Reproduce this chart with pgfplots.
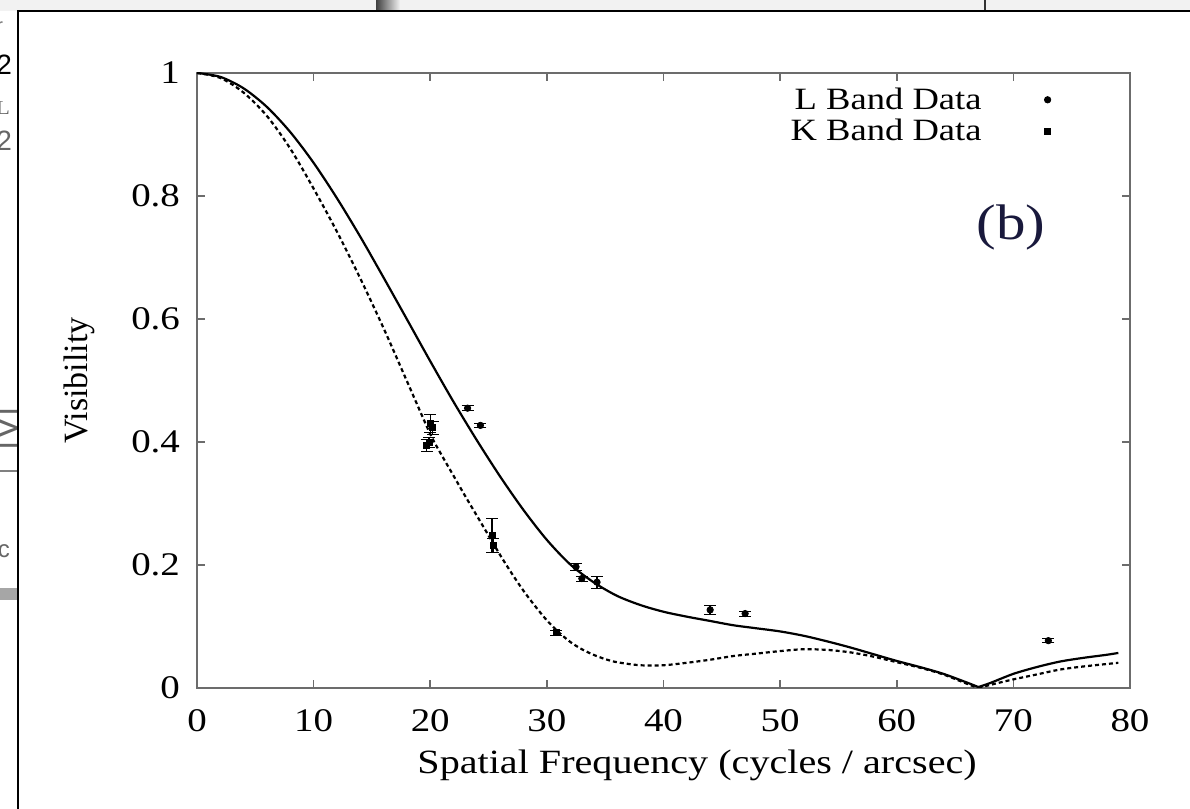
\documentclass[border=0pt]{standalone}
\usepackage{pgfplots}
\pgfplotsset{compat=1.18}
\usepackage{fontspec}
\setmainfont{Liberation Serif}[FakeStretch=1.18]
\newfontfamily\plainserif{Liberation Serif}
\newfontfamily\fragfont{Liberation Sans}
\definecolor{bcol}{RGB}{25,25,60}
\pgfplotsset{myleg/.style={legend image code/.code={\path[draw=none] (0pt,0pt) -- (34pt,0pt); \draw[##1] plot[only marks] coordinates {(31pt,0pt)};}}}

\pgfplotstableread{
x y
0 1.000
2 0.9937
4 0.9750
6 0.9447
8 0.9039
10 0.8539
12 0.7964
14 0.7338
16 0.6673
18 0.5995
20 0.5314
22 0.4652
24 0.4027
26 0.3437
28 0.2893
30 0.2408
32 0.2010
34 0.1720
36 0.1500
38 0.1350
40 0.1240
42 0.1160
44 0.1090
46 0.1020
48 0.0970
50 0.0920
52 0.0850
54 0.0760
56 0.0660
58 0.0550
60 0.0440
62 0.0340
64 0.0230
66 0.0090
67 0.0015
}\solidA

\pgfplotstableread{
x y
67 0.0015
68 0.0080
70 0.0230
72 0.0340
74 0.0430
76 0.0490
78 0.0540
79 0.0570
}\solidB

\pgfplotstableread{
x y
0 1.000
2 0.992
4 0.968
6 0.930
8 0.877
10 0.812
12 0.742
14 0.666
16 0.585
18 0.499
20 0.413
21 0.378
22 0.345
23 0.312
24 0.280
25 0.248
26 0.216
27 0.186
28 0.158
29 0.133
30 0.110
31 0.091
32 0.075
33 0.063
34 0.054
35 0.047
36 0.042
38 0.037
40 0.037
42 0.041
44 0.046
46 0.052
48 0.056
50 0.060
52 0.063
54 0.062
56 0.058
58 0.051
60 0.042
62 0.033
64 0.022
66 0.007
67 0.000
}\dashedA

\pgfplotstableread{
x y
67 0.000
68 0.005
70 0.014
72 0.022
74 0.030
76 0.035
78 0.039
79 0.041
}\dashedB

\pgfplotstableread{
x y e
23.2 0.455 0.004
24.3 0.427 0.004
32.5 0.197 0.005
33.0 0.178 0.004
34.3 0.172 0.010
44.0 0.127 0.007
47.0 0.121 0.004
73.0 0.077 0.003
}\Ldata

\pgfplotstableread{
x y e
19.7 0.395 0.010
19.9 0.400 0.008
20.0 0.430 0.015
20.2 0.423 0.010
25.3 0.248 0.028
25.4 0.232 0.012
30.8 0.090 0.004
}\Kdata

\begin{document}
\begin{tikzpicture}[x=1pt,y=1pt]
\useasboundingbox (0,0) rectangle (595,404.5);
\fill[white] (0,0) rectangle (595,404.5);
% background fragments of the figure behind
\fill[gray!10] (0,399) rectangle (595,404.5);
\shade[left color=black!75, right color=gray!10] (188,399) rectangle (200,404.5);
\draw[black!80, line width=0.8pt] (492.5,399) -- (492.5,404.5);
\begin{scope}
\clip (0,0) rectangle (9,399);
\node[anchor=east, font=\fragfont\fontsize{10}{12}\selectfont, text=gray] at (5,391) {r};
\node[anchor=east, font=\fragfont\fontsize{14}{16}\selectfont] at (9.5,372) {2};
\node[anchor=east, font=\fragfont\fontsize{14}{16}\selectfont, text=gray!80!black] at (8,353) {D$_{\mathrm{L}}$};
\node[anchor=east, font=\fragfont\fontsize{14}{16}\selectfont, text=gray!80!black] at (9.5,334) {2};
\node[rotate=90, font=\fragfont\fontsize{18}{20}\selectfont, text=gray!80!black] at (4,190) {|V|};
\draw[gray, line width=1pt] (0,169) -- (9,169);
\node[anchor=east, font=\fragfont\fontsize{12}{14}\selectfont, text=gray!80!black] at (8.5,129) {sec};
\fill[gray!70] (0,104.5) rectangle (9,110.5);
\end{scope}
\draw[black, line width=1.2pt] (9,0) -- (9,399) -- (595,399);

\begin{axis}[
  at={(98.5pt,60.5pt)}, anchor=south west,
  scale only axis, width=466.5pt, height=307.5pt,
  xmin=0, xmax=80, ymin=0, ymax=1,
  xtick={0,10,20,30,40,50,60,70,80},
  ytick={0,0.2,0.4,0.6,0.8,1},
  yticklabels={0,0.2,0.4,0.6,0.8,1},
  tick align=inside, major tick length=4pt,
  axis line style={gray!85!black, line width=0.8pt},
  tick style={gray!85!black, line width=0.8pt},
  tick label style={font=\fontsize{16.5}{19}\selectfont},
  /pgf/number format/assume math mode=true,
  yticklabel style={xshift=-5pt},
  xticklabel style={yshift=-7pt},
  xlabel={Spatial Frequency (cycles / arcsec)},
  ylabel={Visibility},
  xlabel style={at={(axis description cs:0.536,-0.125)}, anchor=center, font=\fontsize{17}{20}\selectfont},
  ylabel style={at={(axis description cs:-0.126,0.5)}, anchor=center, font=\plainserif\fontsize{17}{20}\selectfont},
  legend style={draw=none, fill=none, at={(rel axis cs:0.925,0.99)}, anchor=north east,
    font=\fontsize{15.5}{18}\selectfont, row sep=-0.5pt},
  legend plot pos=right,
  legend cell align=right,
]
\addplot[only marks, mark=*, mark size=1.6pt, black, myleg,
  error bars/.cd, y dir=both, y explicit,
  error bar style={line width=0.7pt, black}, error mark options={rotate=90, mark size=3pt, black}]
  table[x=x, y=y, y error=e] {\Ldata};
\addlegendentry{L Band Data}
\addplot[only marks, mark=square*, mark size=1.5pt, black, myleg,
  error bars/.cd, y dir=both, y explicit,
  error bar style={line width=0.7pt, black}, error mark options={rotate=90, mark size=3pt, black}]
  table[x=x, y=y, y error=e] {\Kdata};
\addlegendentry{K Band Data}
\addplot[black, line width=1.1pt, smooth, forget plot] table[x=x, y=y] {\solidA};
\addplot[black, line width=1.1pt, smooth, forget plot] table[x=x, y=y] {\solidB};
\addplot[black, line width=1.1pt, smooth, dash pattern=on 2pt off 1.5pt, forget plot] table[x=x, y=y] {\dashedA};
\addplot[black, line width=1.1pt, smooth, dash pattern=on 2pt off 1.5pt, forget plot] table[x=x, y=y] {\dashedB};
\node[font=\fontsize{25}{28}\selectfont, text=bcol] at (axis cs:69.8,0.748) {(b)};
\end{axis}
\end{tikzpicture}
\end{document}
